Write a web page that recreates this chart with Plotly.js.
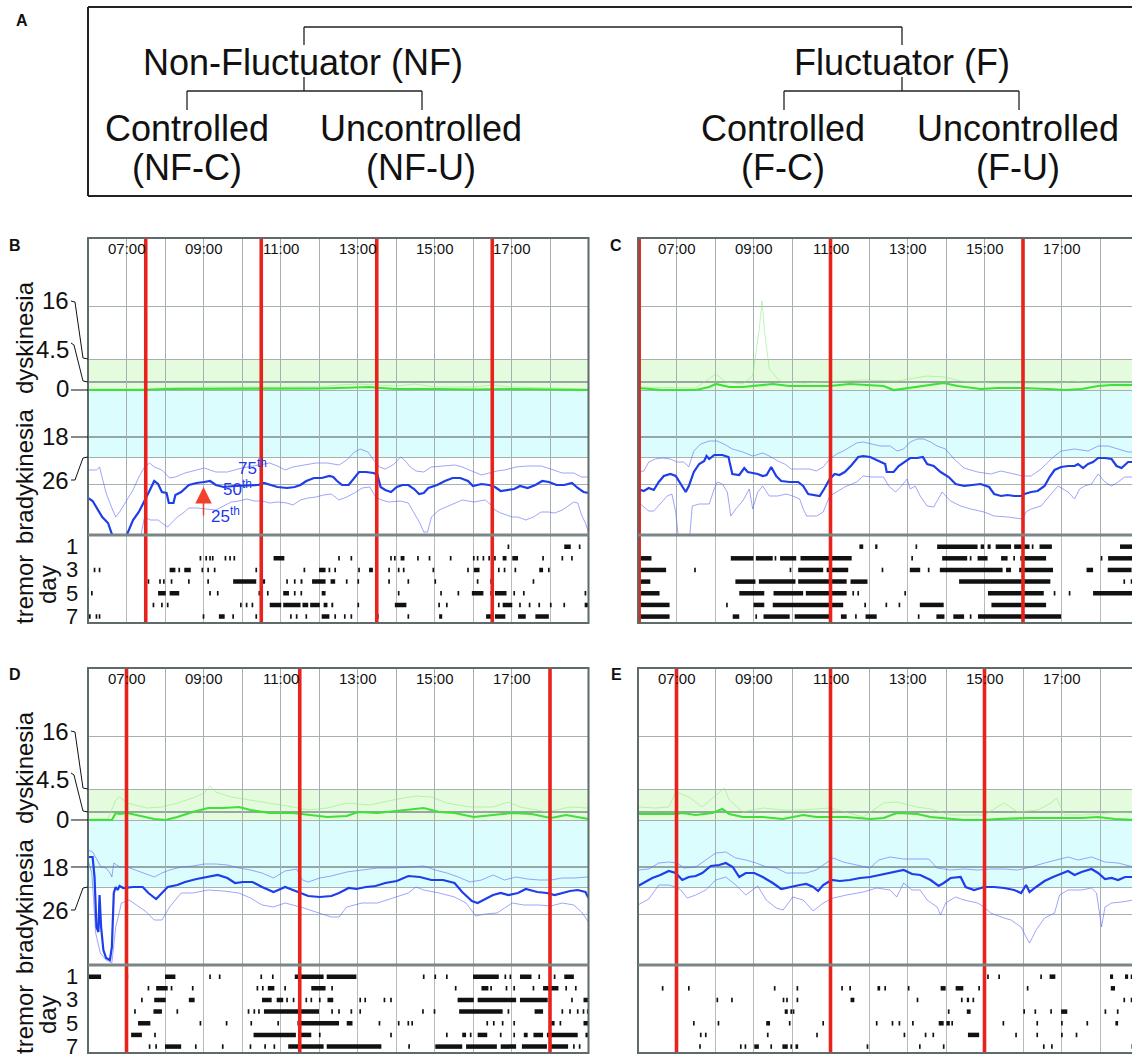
<!DOCTYPE html>
<html>
<head>
<meta charset="utf-8">
<script src="https://cdn.plot.ly/plotly-3.0.1.min.js"></script>
<style>html,body{margin:0;padding:0;background:#fff}#chart{width:1132px;height:1055px}</style>
</head>
<body>
<div id="chart"></div>
<script>
// ---------------- DATA ----------------
const hourGrid = [6,7,8,9,10,11,12,13,14,15,16,17,18,19];
const timeLabelVals = [7,9,11,13,15,17];
const timeLabelText = ['07:00','09:00','11:00','13:00','15:00','17:00'];
// severity axis (display units): positions of the labelled lines and their labels
const yTickVals = [31, 8, 0, -47, -67];
const yTickText = ['16','4.5','0','18','26'];
const yGridVals = [84, 31, 0, -67, -94];
const dayVals = [1,3,5,7];
const dayText = ['1','3','5','7'];

// Panel B (NF-C)
const B_doses = [7.5, 10.5, 13.5, 16.5];
const B_bradyMed = [[6.00,-108],[6.12,-111],[6.37,-127],[6.52,-133],[6.62,-144],[6.72,-153],[6.92,-153],[7.02,-144],[7.17,-130],[7.32,-122],[7.47,-111],[7.57,-103],[7.72,-91],[7.82,-94],[7.92,-102],[8.04,-103],[8.10,-113],[8.22,-113],[8.27,-105],[8.42,-102],[8.62,-95],[8.82,-93],[9.02,-92],[9.17,-91],[9.32,-95],[9.52,-97],[9.80,-96],[10.22,-95],[10.42,-95],[10.57,-93],[10.72,-95],[10.92,-97],[11.17,-98],[11.37,-97],[11.52,-95],[11.67,-91],[11.87,-88],[12.07,-88],[12.27,-86],[12.37,-87],[12.47,-91],[12.60,-95],[12.77,-95],[12.90,-89],[13.04,-82],[13.22,-82],[13.42,-83],[13.52,-85],[13.60,-97],[13.72,-100],[13.87,-102],[14.02,-97],[14.17,-95],[14.32,-95],[14.47,-99],[14.60,-104],[14.72,-103],[14.84,-98],[15.07,-95],[15.27,-91],[15.47,-88],[15.67,-88],[15.87,-91],[16.00,-96],[16.22,-94],[16.42,-95],[16.57,-97],[16.72,-101],[16.87,-100],[17.07,-99],[17.22,-96],[17.42,-98],[17.62,-95],[17.80,-91],[17.97,-92],[18.17,-95],[18.37,-95],[18.57,-93],[18.72,-98],[18.87,-102],[19.00,-103]];
const B_brady75 = [[6.00,-80],[6.22,-80],[6.30,-77],[6.37,-87],[6.47,-103],[6.62,-118],[6.72,-127],[6.82,-122],[6.90,-117],[7.02,-110],[7.17,-100],[7.32,-87],[7.47,-77],[7.60,-73],[7.72,-77],[7.92,-80],[8.12,-88],[8.27,-87],[8.52,-83],[8.82,-80],[9.02,-78],[9.32,-82],[9.62,-82],[10.00,-78],[10.40,-75],[10.72,-73],[10.92,-76],[11.12,-80],[11.32,-77],[11.62,-75],[11.92,-73],[12.22,-73],[12.52,-75],[12.72,-70],[12.92,-62],[13.07,-59],[13.27,-62],[13.42,-70],[13.57,-77],[13.72,-79],[13.92,-75],[14.12,-67],[14.22,-70],[14.37,-77],[14.52,-81],[14.72,-82],[14.92,-77],[15.22,-76],[15.52,-75],[15.72,-77],[15.97,-81],[16.22,-85],[16.42,-83],[16.62,-81],[16.82,-80],[17.12,-77],[17.42,-76],[17.77,-76],[18.02,-79],[18.32,-83],[18.62,-83],[18.82,-87],[19.00,-87]];
const B_brady25 = [[6.00,-165],[7.30,-165],[7.40,-140],[7.47,-127],[7.62,-130],[7.82,-130],[7.92,-133],[8.07,-137],[8.17,-133],[8.32,-127],[8.47,-123],[8.62,-118],[8.82,-118],[9.32,-120],[9.72,-112],[9.92,-111],[10.12,-109],[10.32,-111],[10.52,-111],[10.72,-113],[10.92,-112],[11.17,-113],[11.32,-115],[11.52,-110],[11.72,-108],[11.92,-107],[12.12,-105],[12.32,-104],[12.52,-110],[12.72,-107],[12.92,-103],[13.12,-98],[13.32,-97],[13.47,-107],[13.62,-110],[13.82,-112],[14.12,-111],[14.32,-113],[14.47,-123],[14.62,-133],[14.72,-142],[14.82,-142],[14.92,-127],[15.12,-120],[15.42,-115],[15.72,-110],[16.02,-112],[16.32,-110],[16.47,-115],[16.57,-120],[16.72,-123],[17.02,-127],[17.17,-127],[17.37,-130],[17.57,-127],[17.77,-122],[17.97,-122],[18.12,-123],[18.32,-120],[18.52,-115],[18.62,-112],[18.72,-113],[18.82,-125],[18.92,-133],[19.00,-142]];
const B_dyskMed = [[6,0],[7.5,0],[8,1],[9,1],[10,1.5],[11,1],[12,1.5],[12.5,2],[13,3],[13.3,3],[13.6,2],[14,1],[15,1],[16,0.5],[17,1],[18,0.5],[19,0]];
const B_dysk75 = [[6,1],[7,1],[8,2],[9,3],[10,3],[11,3],[12,3],[12.5,5],[13,6],[13.5,5],[14,4],[14.5,6],[15,3],[16,3],[16.5,5],[17,3],[18,2],[19,1]];
const B_tremor = [
 [[16.92],[18.37,18.54],[18.77]],
 [[8.92],[9.07],[9.17],[9.24],[9.57],[9.69],[9.80],[10.82,11.10],[12.52],[12.84],[13.87],[13.97],[14.12,14.22],[14.57],[14.87],[15.42],[16.02],[16.12],[16.27],[16.42],[16.57],[16.77,16.87],[17.02,17.17],[17.82],[18.32],[18.57]],
 [[6.17],[6.30],[8.12,8.27],[8.37],[8.50,8.67],[8.97],[9.12],[9.29],[10.37],[11.62],[12.00,12.17],[12.27],[12.42],[13.04],[13.30,13.40],[13.82],[14.07],[14.20],[14.97],[15.87],[16.02,16.17],[16.67],[16.82],[17.10],[17.72,17.82],[17.97]],
 [[7.57],[7.87],[7.97],[8.17],[8.62],[9.12],[9.77,10.37],[10.50,10.60],[11.17],[11.37],[11.52,11.57],[11.82,12.17],[12.30,12.42],[12.72],[13.02],[13.82],[14.32],[15.02],[16.12],[16.47],[17.57]],
 [[6.10],[7.82,8.02],[8.12,8.37],[9.17],[9.37],[10.45],[10.67],[11.07,11.22],[11.37],[11.54],[12.07,12.17],[14.07],[15.17],[15.62],[15.97,16.27],[16.47],[16.57,16.87],[17.07],[17.32],[18.92]],
 [[7.70],[7.92],[8.07],[9.97],[10.12],[10.27],[10.72,11.02],[11.07,11.52],[11.57,11.72],[11.77,12.02],[12.12,12.22],[12.32,12.37],[13.02],[13.97,14.27],[15.12],[15.32],[16.67],[16.77,17.02],[17.22],[17.47],[17.72],[18.02],[18.37],[18.90,19.0]],
 [[6.00,6.07],[6.22],[6.30],[9.00],[9.40,9.55],[9.77],[10.37],[11.27],[11.42],[11.67],[12.07,12.27],[12.42],[12.67],[12.84],[13.47,13.55],[14.32],[15.12,15.20],[16.34,16.47],[16.57,16.84],[17.17,17.37],[17.62,17.97]]
];

// Panel C (F-C)
const C_doses = [6.03, 11.0, 16.0];
const C_bradyMed = [[6.00,-99],[6.15,-101],[6.28,-98],[6.41,-100],[6.54,-92],[6.67,-86],[6.84,-84],[6.98,-86],[7.11,-94],[7.24,-102],[7.32,-96],[7.45,-82],[7.59,-74],[7.72,-71],[7.78,-66],[7.85,-69],[7.98,-65],[8.19,-65],[8.35,-67],[8.45,-84],[8.63,-85],[8.76,-78],[8.85,-82],[8.98,-83],[9.11,-84],[9.24,-86],[9.34,-85],[9.46,-77],[9.59,-86],[9.72,-91],[9.94,-92],[10.16,-92],[10.29,-96],[10.42,-104],[10.59,-105],[10.72,-106],[10.85,-98],[10.98,-89],[11.11,-84],[11.23,-85],[11.37,-82],[11.55,-75],[11.72,-67],[11.85,-66],[12.03,-67],[12.25,-71],[12.42,-74],[12.46,-82],[12.64,-82],[12.77,-76],[12.94,-71],[13.07,-68],[13.25,-68],[13.40,-67],[13.51,-74],[13.68,-76],[13.86,-82],[14.07,-87],[14.25,-94],[14.47,-96],[14.68,-95],[14.90,-94],[15.12,-97],[15.25,-104],[15.43,-106],[15.60,-105],[15.77,-106],[15.95,-106],[16.04,-104],[16.21,-102],[16.38,-101],[16.56,-96],[16.69,-87],[16.82,-80],[16.99,-77],[17.17,-76],[17.34,-76],[17.43,-74],[17.56,-78],[17.69,-74],[17.82,-72],[17.95,-68],[18.13,-68],[18.30,-69],[18.43,-76],[18.56,-78],[18.73,-72],[18.87,-72]];
const C_brady75 = [[6.00,-82],[6.15,-81],[6.28,-72],[6.45,-69],[6.63,-68],[6.84,-69],[7.02,-72],[7.19,-72],[7.32,-77],[7.45,-61],[7.63,-54],[7.85,-51],[8.06,-51],[8.28,-55],[8.45,-59],[8.72,-62],[8.98,-66],[9.24,-63],[9.41,-66],[9.63,-71],[9.81,-74],[9.98,-79],[10.20,-79],[10.46,-79],[10.63,-81],[10.81,-77],[10.98,-69],[11.16,-64],[11.33,-61],[11.50,-57],[11.68,-53],[11.85,-52],[12.07,-54],[12.29,-56],[12.55,-56],[12.73,-61],[12.90,-59],[13.07,-52],[13.25,-49],[13.42,-49],[13.60,-52],[13.77,-56],[13.99,-59],[14.21,-69],[14.47,-78],[14.82,-82],[15.16,-84],[15.43,-81],[15.77,-84],[15.99,-86],[16.21,-86],[16.47,-79],[16.73,-69],[16.99,-61],[17.34,-59],[17.69,-61],[17.95,-56],[18.21,-56],[18.47,-59],[18.73,-62],[18.87,-62]];
const C_brady25 = [[6.00,-112],[6.15,-117],[6.28,-121],[6.41,-121],[6.58,-114],[6.76,-106],[6.88,-104],[6.98,-122],[7.05,-148],[7.15,-150],[7.34,-148],[7.41,-116],[7.59,-114],[7.85,-114],[7.98,-99],[8.06,-92],[8.19,-94],[8.32,-102],[8.41,-126],[8.54,-119],[8.72,-111],[8.89,-99],[8.98,-119],[9.11,-102],[9.24,-96],[9.41,-106],[9.63,-106],[9.85,-104],[10.02,-106],[10.20,-109],[10.29,-119],[10.38,-126],[10.64,-126],[10.81,-122],[10.98,-106],[11.16,-102],[11.37,-97],[11.68,-92],[11.85,-86],[12.07,-87],[12.38,-87],[12.51,-96],[12.69,-102],[12.82,-97],[12.99,-89],[13.07,-99],[13.20,-96],[13.33,-106],[13.51,-116],[13.68,-117],[13.90,-102],[14.12,-111],[14.38,-116],[14.64,-119],[14.99,-122],[15.25,-126],[15.60,-127],[15.99,-129],[16.08,-122],[16.21,-119],[16.47,-116],[16.73,-104],[16.91,-96],[17.17,-102],[17.34,-109],[17.47,-99],[17.60,-96],[17.78,-94],[17.95,-84],[18.13,-92],[18.30,-96],[18.47,-92],[18.64,-87],[18.87,-87]];
const C_dyskMed = [[6.0,2],[6.63,0],[7.50,0],[7.85,3],[8.02,6],[8.37,3],[8.72,3],[9.24,5],[9.50,6],[9.94,4],[10.29,4],[10.98,4],[11.50,6],[12.03,5],[12.38,4],[12.64,0],[12.99,2],[13.42,4],[13.94,7],[14.30,4],[14.90,1],[15.34,2],[15.99,2],[16.65,1],[17.08,0],[17.52,1],[17.95,4],[18.30,5],[18.87,5]];
const C_dysk75 = [[6.0,3],[7.50,2],[7.76,9],[8.02,16],[8.28,8],[8.72,6],[8.98,14],[9.15,61],[9.22,89],[9.28,61],[9.41,21],[9.67,9],[10.29,7],[10.98,8],[11.85,10],[12.73,9],[13.51,14],[13.94,13],[14.38,9],[15.25,7],[16.12,7],[16.99,7],[17.25,9],[17.86,7],[18.87,7]];
const C_tremor = [
 [[11.75,11.85],[12.16,12.22],[13.23],[13.77,14.82],[14.90,14.99],[15.08,15.16],[15.29,15.69],[15.77,16.17],[16.25],[16.43,16.75],[18.52,18.87]],
 [[6.0,6.35],[8.41,9.00],[9.06,9.50],[9.57],[9.69,10.11],[10.22,11.55],[13.12],[13.90,14.55],[14.64],[14.82,15.08],[15.43,15.60],[15.77],[15.93,16.60],[18.04],[18.21,18.87]],
 [[6.0,6.73],[7.48],[9.96],[10.16,10.81],[10.90,11.46],[12.35],[13.06,13.33],[13.55],[13.84,15.47],[15.56,15.69],[15.90,16.78],[17.65,17.82],[18.20,18.82]],
 [[6.0,6.32],[8.53,9.05],[9.14,10.09],[10.16,11.42],[11.52,11.96],[14.34,16.71],[18.63],[18.82]],
 [[6.0,6.56],[8.63,9.28],[9.52,10.29],[10.36,11.42],[11.59],[11.72],[12.94],[15.09,16.54],[16.82],[17.21],[17.82,18.87]],
 [[6.0,6.82],[8.31],[9.0,9.28],[9.50,11.33],[11.90],[12.45],[12.79],[13.32,13.94],[15.18,16.60]],
 [[6.0,6.82],[8.46,8.63],[9.07],[9.26,9.94],[10.07,10.97],[11.27,11.42],[11.66],[11.91,12.20],[13.29],[13.75,13.96],[14.19,14.47],[14.64],[14.83,16.99]]
];

// Panel D (NF-U)
const D_doses = [7.0, 11.5, 18.0];
const D_bradyMed = [[6.00,-37],[6.12,-37],[6.17,-57],[6.22,-107],[6.27,-112],[6.30,-75],[6.34,-107],[6.40,-130],[6.47,-138],[6.57,-140],[6.62,-127],[6.67,-73],[6.72,-67],[6.77,-70],[6.82,-66],[6.92,-68],[7.17,-67],[7.42,-67],[7.57,-73],[7.77,-79],[7.92,-73],[8.07,-67],[8.32,-65],[8.52,-62],[8.82,-59],[9.12,-57],[9.37,-55],[9.62,-58],[9.82,-63],[10.02,-62],[10.27,-62],[10.52,-67],[10.82,-72],[11.12,-67],[11.32,-70],[11.52,-73],[11.72,-76],[12.02,-77],[12.32,-76],[12.52,-73],[12.77,-68],[12.97,-69],[13.22,-67],[13.47,-66],[13.72,-63],[14.02,-61],[14.32,-56],[14.62,-57],[14.92,-60],[15.22,-60],[15.52,-63],[15.72,-72],[15.97,-81],[16.12,-83],[16.32,-79],[16.52,-75],[16.72,-73],[16.92,-75],[17.17,-73],[17.37,-69],[17.67,-72],[17.92,-73],[18.12,-75],[18.32,-73],[18.52,-71],[18.72,-70],[18.92,-72],[19.00,-78]];
const D_brady75 = [[6.00,-30],[6.12,-32],[6.34,-47],[6.47,-48],[6.57,-53],[6.62,-57],[6.67,-43],[6.82,-47],[7.02,-47],[7.22,-50],[7.47,-53],[7.72,-57],[7.92,-53],[8.12,-50],[8.42,-47],[8.72,-46],[9.02,-44],[9.32,-44],[9.62,-45],[9.92,-48],[10.22,-50],[10.52,-53],[10.82,-58],[11.12,-51],[11.42,-49],[11.57,-60],[11.72,-62],[12.02,-58],[12.32,-56],[12.72,-52],[13.12,-50],[13.52,-48],[13.92,-48],[14.32,-47],[14.72,-46],[15.02,-50],[15.32,-53],[15.62,-57],[15.92,-62],[16.22,-60],[16.52,-55],[16.82,-60],[17.12,-57],[17.42,-59],[17.72,-60],[18.02,-60],[18.32,-58],[18.62,-58],[19.00,-57]];
const D_brady25 = [[6.00,-40],[6.10,-53],[6.20,-113],[6.32,-133],[6.47,-140],[6.62,-143],[6.72,-107],[6.87,-83],[7.07,-80],[7.32,-87],[7.52,-92],[7.72,-100],[7.92,-100],[8.12,-87],[8.42,-73],[8.72,-73],[9.12,-70],[9.52,-71],[9.92,-73],[10.22,-78],[10.52,-85],[10.82,-87],[11.12,-83],[11.52,-87],[11.92,-92],[12.32,-97],[12.52,-97],[12.72,-87],[13.12,-83],[13.52,-83],[13.92,-78],[14.32,-73],[14.52,-67],[14.72,-70],[15.12,-73],[15.52,-77],[15.82,-83],[16.07,-96],[16.32,-94],[16.62,-93],[16.82,-88],[17.02,-83],[17.32,-85],[17.72,-85],[18.02,-86],[18.32,-83],[18.62,-85],[18.82,-92],[19.00,-102]];
const D_dyskMed = [[6.0,0],[6.62,0],[6.72,7],[6.82,6],[7.02,7],[7.52,3],[7.72,1],[8.02,0],[8.32,3],[8.72,8],[9.12,12],[9.52,12],[9.92,13],[10.22,10],[10.72,7],[11.32,7],[11.72,5],[12.22,3],[12.72,4],[13.02,8],[13.52,7],[14.22,10],[14.72,12],[15.12,8],[15.52,7],[16.02,3],[16.52,5],[17.02,7],[17.52,6],[18.02,2],[18.42,5],[18.72,3],[19.0,1]];
const D_dysk75 = [[6.0,1],[6.52,1],[6.72,20],[6.82,23],[7.02,17],[7.52,12],[7.92,13],[8.32,17],[8.72,22],[9.02,27],[9.17,34],[9.32,28],[9.72,23],[10.22,20],[10.72,17],[11.32,13],[11.72,10],[12.22,12],[12.72,17],[13.32,15],[13.92,20],[14.52,24],[14.92,23],[15.32,17],[15.92,13],[16.52,13],[16.92,18],[17.22,13],[17.92,8],[18.52,13],[19.0,12]];
const D_tremor = [
 [[6.00,6.34],[7.02],[8.00,8.27],[9.17],[9.42],[10.50],[10.80],[11.37,12.12],[12.20,12.97],[14.72],[15.02],[15.32],[16.00,16.67],[16.84],[16.97],[17.22,17.52],[17.72],[18.12],[18.37,18.62]],
 [[7.57],[7.77,8.07],[8.17],[8.72],[10.40],[10.54],[10.67,10.84],[11.12],[11.80,12.17],[12.34],[15.55],[16.22,16.40],[16.47],[16.87],[17.07],[17.57],[17.82,18.22],[18.42],[18.67]],
 [[7.40],[7.72,8.02],[8.62,8.77],[10.52,10.77],[10.90,11.07],[11.17],[11.34],[11.67],[11.80],[12.02],[12.22,12.37],[13.07],[13.20],[13.70],[13.87],[15.60,16.02],[16.12,17.12],[17.22,17.94],[18.57],[18.87,19.0]],
 [[7.22],[7.70,7.92],[8.32],[10.17],[10.32],[10.44],[10.57,12.00],[12.34],[12.52],[12.84],[13.07],[14.70],[15.00],[15.64,16.77],[16.92],[17.60,17.82],[18.32],[18.52],[18.72],[18.87],[18.98]],
 [[7.30,7.62],[8.92],[9.60],[10.24],[10.94],[11.44,12.52],[12.72,12.87],[13.57],[14.07],[14.32],[14.42],[16.37],[16.54],[16.77],[17.07],[18.02,18.12],[18.27],[18.87,19.0]],
 [[7.12,7.40],[7.74],[10.30,11.40],[11.52,11.80],[12.02],[13.87],[15.32],[15.72,15.82],[15.94],[16.12,16.37],[16.72],[17.07],[17.32,17.42],[17.57,17.82],[17.92,18.72],[18.92,19.0]],
 [[7.60],[7.77],[8.00,8.42],[8.80],[9.50],[10.22],[10.60],[10.84],[11.20,12.12],[12.20,13.62],[14.34],[15.02,15.72],[15.82,16.62],[16.72,17.12],[17.27,17.92],[18.02,18.47],[18.62],[18.77]]
];

// Panel E (F-U)
const E_doses = [7.0, 11.0, 15.0];
const E_bradyMed = [[6.00,-66],[6.15,-63],[6.37,-58],[6.58,-55],[6.80,-51],[6.98,-53],[7.15,-60],[7.32,-57],[7.50,-56],[7.67,-53],[7.89,-46],[8.11,-45],[8.28,-43],[8.46,-47],[8.63,-57],[8.80,-53],[9.02,-53],[9.24,-57],[9.50,-63],[9.72,-69],[9.94,-67],[10.20,-65],[10.37,-64],[10.55,-67],[10.68,-71],[10.81,-65],[11.03,-60],[11.24,-61],[11.50,-60],[11.77,-58],[12.03,-57],[12.29,-55],[12.55,-53],[12.72,-52],[12.90,-50],[13.12,-54],[13.33,-55],[13.60,-60],[13.81,-66],[13.94,-63],[14.12,-58],[14.38,-57],[14.51,-67],[14.73,-70],[14.99,-67],[15.25,-67],[15.51,-68],[15.77,-70],[15.95,-73],[16.08,-65],[16.17,-72],[16.34,-67],[16.56,-61],[16.78,-57],[16.99,-54],[17.17,-51],[17.34,-55],[17.52,-52],[17.78,-49],[17.95,-53],[18.13,-59],[18.30,-58],[18.47,-60],[18.65,-57],[18.87,-57]];
const E_brady75 = [[6.00,-50],[6.28,-49],[6.54,-43],[6.80,-42],[7.02,-43],[7.19,-48],[7.50,-47],[7.76,-40],[8.02,-33],[8.28,-32],[8.54,-38],[8.80,-40],[9.07,-43],[9.33,-47],[9.59,-48],[9.85,-53],[10.11,-53],[10.37,-53],[10.63,-50],[10.90,-43],[11.07,-38],[11.33,-42],[11.68,-45],[12.03,-48],[12.25,-40],[12.55,-37],[12.90,-39],[13.25,-39],[13.55,-39],[13.77,-48],[14.12,-50],[14.47,-49],[14.82,-50],[15.16,-49],[15.51,-49],[15.86,-50],[16.21,-47],[16.56,-43],[16.90,-40],[17.17,-37],[17.43,-40],[17.78,-37],[18.13,-42],[18.47,-43],[18.87,-47]];
const E_brady25 = [[6.00,-85],[6.28,-79],[6.54,-65],[6.80,-65],[6.98,-67],[7.11,-70],[7.28,-78],[7.50,-75],[7.76,-70],[8.02,-60],[8.28,-57],[8.54,-65],[8.80,-75],[8.98,-70],[9.11,-66],[9.33,-80],[9.59,-88],[9.77,-90],[10.02,-77],[10.29,-80],[10.55,-91],[10.81,-83],[11.07,-78],[11.42,-75],[11.85,-72],[12.20,-68],[12.55,-70],[12.72,-77],[12.90,-63],[13.12,-70],[13.33,-70],[13.51,-80],[13.77,-87],[13.86,-95],[13.99,-83],[14.25,-77],[14.47,-80],[14.82,-83],[14.99,-87],[15.16,-93],[15.43,-97],[15.69,-100],[15.95,-107],[16.08,-117],[16.17,-123],[16.34,-110],[16.56,-98],[16.82,-93],[16.95,-75],[17.17,-70],[17.52,-70],[17.78,-68],[17.91,-73],[18.04,-107],[18.13,-87],[18.30,-83],[18.56,-82],[18.87,-80]];
const E_dyskMed = [[6.0,6],[6.63,6],[6.98,6],[7.15,7],[7.50,5],[7.93,7],[8.19,11],[8.37,6],[8.72,3],[9.24,3],[9.76,1],[10.29,5],[10.63,3],[10.98,3],[11.42,3],[12.03,1],[12.38,2],[12.72,7],[13.25,6],[13.60,3],[14.12,1],[14.47,0],[14.99,0],[15.34,1],[16.21,2],[16.73,2],[17.08,2],[17.52,2],[17.95,3],[18.39,1],[18.87,0]];
const E_dysk75 = [[6.0,13],[6.45,12],[6.80,13],[6.98,28],[7.06,27],[7.32,23],[7.67,13],[8.11,27],[8.24,32],[8.37,20],[8.72,8],[9.24,12],[9.76,10],[10.29,10],[10.98,12],[11.85,3],[12.38,17],[12.72,18],[13.25,13],[13.60,11],[14.12,5],[14.99,5],[15.51,17],[15.86,8],[16.38,10],[16.73,17],[16.87,22],[17.08,5],[17.52,5],[17.95,6],[18.47,8],[18.87,7]];
const E_tremor = [
 [[15.09],[15.38],[16.47],[16.69,16.84],[18.26,18.34],[18.65,18.73],[18.82]],
 [[6.64],[7.32],[9.55],[10.14],[11.30],[11.51],[12.22,12.29],[12.42],[13.03],[13.86,13.99],[14.25,14.45],[14.86],[16.12],[18.28,18.39]],
 [[8.06],[8.44],[9.78],[9.87],[10.14],[11.52,11.62],[13.26],[14.41],[14.54,14.60],[14.71],[18.63],[18.82]],
 [[9.81,9.89],[9.98],[10.04],[14.07],[14.54,14.64],[16.03],[16.32],[16.73],[16.99,17.15],[18.14],[18.46]],
 [[7.45],[8.09],[9.33,9.43],[9.94],[10.81],[12.20],[12.61],[12.79],[13.14],[13.81,13.94],[14.01,14.10],[14.16],[15.49],[16.37],[17.01],[17.67],[18.40,18.47]],
 [[7.63],[7.76],[9.37],[10.65],[12.92],[13.47],[13.67],[14.57,14.86],[15.82],[16.37],[17.01],[17.39]],
 [[7.61],[8.67],[8.79],[9.02,9.14],[9.46],[9.75,9.89],[9.98],[10.09,10.16],[11.96],[13.32],[13.94],[16.54],[16.75],[18.84]]
];

// Panel A tree texts
const treeTop = ['Non-Fluctuator (NF)', 'Fluctuator (F)'];
const treeLeaves = [['Controlled','(NF-C)'],['Uncontrolled','(NF-U)'],['Controlled','(F-C)'],['Uncontrolled','(F-U)']];

// ---------------- LAYOUT HELPERS ----------------
const W = 1132, H = 1055;
const FONT = 'Liberation Sans, Arial, Helvetica, sans-serif';
const px = x => x / W;
const py = y => 1 - y / H;
const GRID = '#a5b1b1', GRID_DARK = '#7d8b8b', FRAME = '#5f6a6a', RED = '#e8231c';
const BRADY_MED = '#1d3ee8', BRADY_PCT = 'rgba(95,105,245,0.6)';
const DYSK_MED = '#3fe03a', DYSK_PCT = 'rgba(140,235,120,0.55)';

const shapes = [], annotations = [], traces = [];
function pline(x0,y0,x1,y1,color,width){
  shapes.push({type:'line', xref:'paper', yref:'paper', x0:px(x0), y0:py(y0), x1:px(x1), y1:py(y1), line:{color:color, width:width}, layer:'above'});
}
function ppath(pts,color,width){
  shapes.push({type:'path', xref:'paper', yref:'paper', path:'M' + pts.map(p => px(p[0]).toFixed(5) + ',' + py(p[1]).toFixed(5)).join(' L'), line:{color:color, width:width}, layer:'above'});
}
function ptext(text,x,y,size,extra){
  const a = {xref:'paper', yref:'paper', x:px(x), y:py(y), text:text, showarrow:false, xanchor:'center', yanchor:'middle', font:{size:size, color:'#111', family:FONT}};
  if (extra) Object.assign(a, extra);
  annotations.push(a);
}

// ---------------- PANEL A ----------------
ptext('<b>A</b>', 22, 21, 16);
pline(88,7,1132,7,'#222',2); pline(88,7,88,196,'#222',2); pline(88,196,1132,196,'#222',2);
pline(304,27,902,27,'#222',1.3);
pline(304,27,304,45,'#222',1.3); pline(902,27,902,45,'#222',1.3);
[[304,187,422],[902,784,1019]].forEach(([c,l,r]) => {
  pline(c,77,c,91,'#222',1.3); pline(l,91,r,91,'#222',1.3);
  pline(l,91,l,110,'#222',1.3); pline(r,91,r,110,'#222',1.3);
});
ptext(treeTop[0], 303, 63, 36); ptext(treeTop[1], 902, 63, 36);
[187,421,783,1018].forEach((cx,i) => {
  ptext(treeLeaves[i][0], cx, 128, 36);
  ptext(treeLeaves[i][1], cx, 168, 36);
});

// ---------------- PANELS B-E ----------------
const colLeft = [88, 638], colRight = [588.5, 1132], frameRight = [588.5, 1150];
const rowTop = [238, 668], rowZero = [390, 820], rowDiv = [535, 965], rowBot = [623, 1053];
const pxPerHour = 38.5;
const panels = [
  {label:'B', col:0, row:0, med:B_bradyMed, p75:B_brady75, p25:B_brady25, dMed:B_dyskMed, d75:B_dysk75, tremor:B_tremor, doses:B_doses},
  {label:'C', col:1, row:0, med:C_bradyMed, p75:C_brady75, p25:C_brady25, dMed:C_dyskMed, d75:C_dysk75, tremor:C_tremor, doses:C_doses},
  {label:'D', col:0, row:1, med:D_bradyMed, p75:D_brady75, p25:D_brady25, dMed:D_dyskMed, d75:D_dysk75, tremor:D_tremor, doses:D_doses},
  {label:'E', col:1, row:1, med:E_bradyMed, p75:E_brady75, p25:E_brady25, dMed:E_dyskMed, d75:E_dysk75, tremor:E_tremor, doses:E_doses}
];
const sfx = n => (n === 1 ? '' : String(n));
const layout = {
  width: W, height: H, margin:{l:0,r:0,t:0,b:0}, paper_bgcolor:'#fff', plot_bgcolor:'#fff',
  showlegend:false, font:{family:FONT, color:'#111'}
};

panels.forEach((p, i) => {
  const nT = 2*i + 1, nR = 2*i + 2;
  const L = colLeft[p.col], R = colRight[p.col];
  const T = rowTop[p.row], Z = rowZero[p.row], Dv = rowDiv[p.row], Bt = rowBot[p.row];
  const xr = [6, 6 + (R - L) / pxPerHour];
  const xdom = [px(L), Math.min(1, px(R))];
  layout['xaxis' + sfx(nT)] = {domain:xdom, range:xr, anchor:'y' + sfx(nT), tickvals:hourGrid, showticklabels:false, ticks:'', showgrid:true, gridcolor:GRID, gridwidth:1, zeroline:false, showline:false, fixedrange:true};
  layout['yaxis' + sfx(nT)] = {domain:[py(Dv), py(T)], range:[Z - Dv, Z - T], anchor:'x' + sfx(nT), tickvals:yGridVals, showticklabels:false, ticks:'', showgrid:true, gridcolor:GRID, gridwidth:1, zeroline:false, showline:false, fixedrange:true};
  layout['xaxis' + sfx(nR)] = {domain:xdom, range:xr, anchor:'y' + sfx(nR), tickvals:hourGrid, showticklabels:false, ticks:'', showgrid:true, gridcolor:'#b3bdbd', gridwidth:1, zeroline:false, showline:false, fixedrange:true};
  layout['yaxis' + sfx(nR)] = {domain:[py(Bt), py(Dv)], range:[7.55, 0], anchor:'x' + sfx(nR), showticklabels:false, ticks:'', showgrid:false, zeroline:false, showline:false, fixedrange:true};

  const xa = 'x' + sfx(nT), ya = 'y' + sfx(nT);
  shapes.push({type:'rect', xref:'paper', yref: ya, x0:xdom[0], x1:xdom[1], y0:0, y1:yTickVals[0], fillcolor:'#e5fbde', line:{width:0}, layer:'below'});
  shapes.push({type:'rect', xref:'paper', yref: ya, x0:xdom[0], x1:xdom[1], y0:yTickVals[4], y1:0, fillcolor:'#dbfdfd', line:{width:0}, layer:'below'});
  [yTickVals[1], yTickVals[3]].forEach(v => {
    shapes.push({type:'line', xref:'paper', yref: ya, x0:xdom[0], x1:xdom[1], y0:v, y1:v, line:{color:GRID_DARK, width:1.6}, layer:'below'});
  });

  const mk = (arr, color, width, axX, axY) => ({type:'scatter', mode:'lines', x:arr.map(d => d[0]), y:arr.map(d => d[1]), xaxis:axX, yaxis:axY, line:{color:color, width:width}, hoverinfo:'skip'});
  traces.push(mk(p.p25, BRADY_PCT, 1, xa, ya));
  traces.push(mk(p.p75, BRADY_PCT, 1, xa, ya));
  traces.push(mk(p.d75, DYSK_PCT, 1, xa, ya));
  traces.push(mk(p.med, BRADY_MED, 2.2, xa, ya));
  traces.push(mk(p.dMed, DYSK_MED, 2.2, xa, ya));

  const tx = [], ty = [];
  p.tremor.forEach((day, d) => {
    day.forEach(iv => {
      const s = iv.length > 1 ? iv[0] : iv[0] - 0.022;
      const e = iv.length > 1 ? Math.max(iv[1], iv[0] + 0.044) : iv[0] + 0.022;
      tx.push(s, e, null); ty.push(d + 1, d + 1, null);
    });
  });
  traces.push({type:'scatter', mode:'lines', x:tx, y:ty, xaxis:'x' + sfx(nR), yaxis:'y' + sfx(nR), line:{color:'#111', width:4.5}, connectgaps:false, hoverinfo:'skip'});

  p.doses.forEach(t => {
    shapes.push({type:'line', xref: xa, yref:'paper', x0:t, x1:t, y0:py(T), y1:py(Bt), line:{color:RED, width:3.6}, layer:'above'});
  });
  shapes.push({type:'rect', xref:'paper', yref:'paper', x0:px(L), x1:px(frameRight[p.col]), y0:py(Bt), y1:py(T), line:{color:FRAME, width:2}, fillcolor:'rgba(0,0,0,0)', layer:'above'});
  pline(L, Dv, frameRight[p.col], Dv, '#7b8686', 3);

  timeLabelVals.forEach((v, k) => {
    annotations.push({xref: xa, yref:'paper', x:v, y:py(T + 10.5), text:timeLabelText[k], showarrow:false, xanchor:'center', yanchor:'middle', font:{size:15, color:'#111', family:FONT}});
  });
  ptext('<b>' + p.label + '</b>', p.col === 0 ? 15 : 616, T + 7, 16);

  if (p.col === 0) {
    const off = T - 238;
    const labY = [301, 349, 389, 437, 480];
    yTickText.forEach((t, k) => ptext(t, 71, labY[k] + off, 24, {xanchor:'right'}));
    const yv = v => Z - v;
    ppath([[71,301+off],[75,302+off],[83,yv(yTickVals[0])-1],[88,yv(yTickVals[0])]], '#111', 1);
    ppath([[71,343+off],[74,345+off],[83,yv(yTickVals[1])-1],[88,yv(yTickVals[1])]], '#111', 1);
    ppath([[71,yv(0)],[88,yv(0)]], '#111', 1);
    ppath([[71,yv(yTickVals[3])],[88,yv(yTickVals[3])]], '#111', 1);
    ppath([[71,480+off],[75,480+off],[83,yv(yTickVals[4])+1],[88,yv(yTickVals[4])]], '#111', 1);
    ptext('dyskinesia', 24, 338 + off, 24, {textangle:-90});
    ptext('bradykinesia', 24, 477 + off, 24, {textangle:-90});
    ptext('tremor', 24, 590 + off, 24, {textangle:-90});
    ptext('day', 47, 584 + off, 24, {textangle:-90});
    dayVals.forEach((d, k) => {
      annotations.push({xref:'paper', yref:'y' + sfx(nR), x:px(80), y:d, text:dayText[k], showarrow:false, xanchor:'right', yanchor:'middle', font:{size:22, color:'#111', family:FONT}});
    });
  }
});

// percentile labels + arrow in panel B
const pctLabels = [['75<sup>th</sup>', 10.27, -77], ['50<sup>th</sup>', 9.87, -98], ['25<sup>th</sup>', 9.57, -125]];
pctLabels.forEach(l => annotations.push({xref:'x', yref:'y', x:l[1], y:l[2], text:l[0], showarrow:false, xanchor:'center', yanchor:'middle', font:{size:17, color:'#2237ee', family:FONT}}));
annotations.push({xref:'x', yref:'y', x:9.0, y:-97, axref:'x', ayref:'y', ax:9.0, ay:-127, text:'', showarrow:true, arrowhead:2, arrowsize:2.2, arrowwidth:1.5, arrowcolor:'#f3402e'});

layout.shapes = shapes;
layout.annotations = annotations;
Plotly.newPlot('chart', traces, layout, {displayModeBar:false, staticPlot:true});
</script>
</body>
</html>
